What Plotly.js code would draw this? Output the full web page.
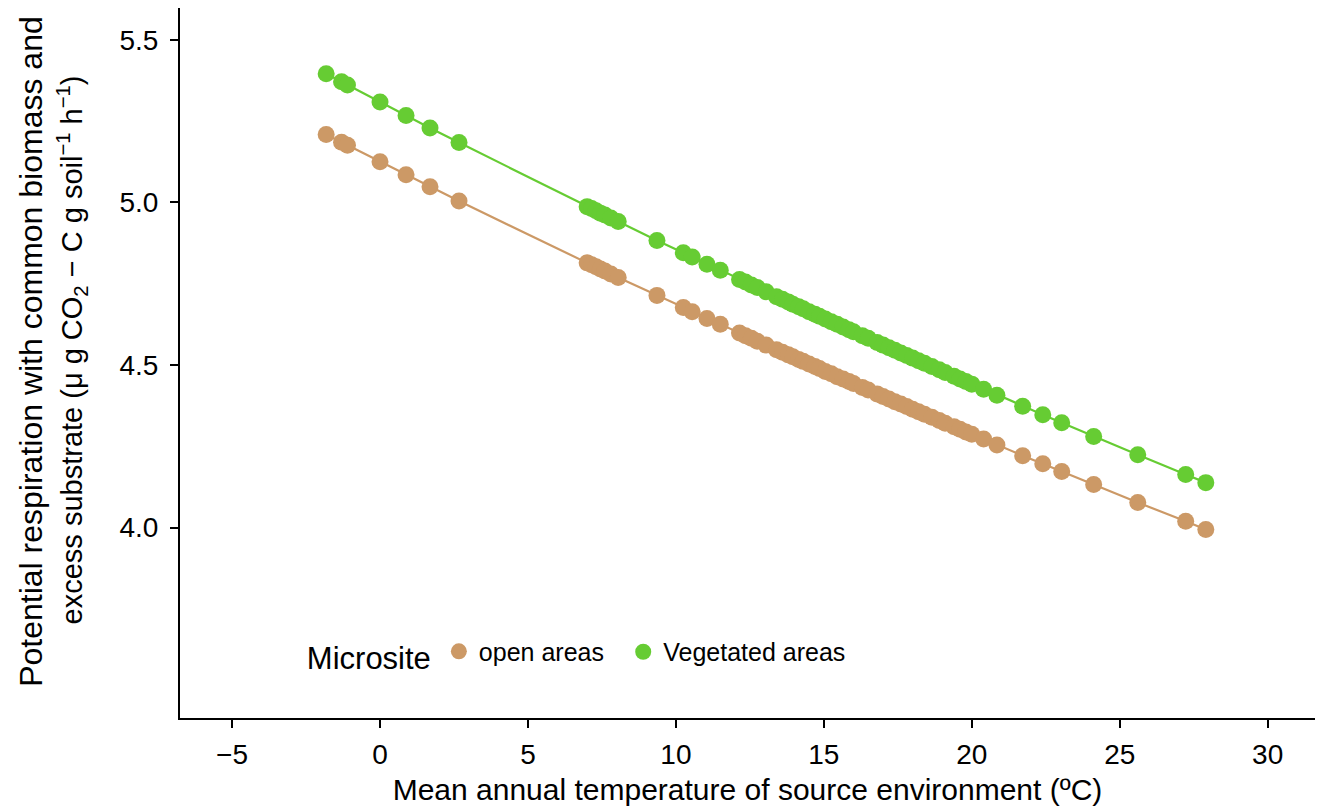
<!DOCTYPE html>
<html>
<head>
<meta charset="utf-8">
<script src="https://cdn.plot.ly/plotly-3.0.1.min.js"></script>
<style>html,body{margin:0;padding:0;background:#fff;}#chart{width:1327px;height:811px;}</style>
</head>
<body>
<div id="chart"></div>
<script>
// Mean annual temperature of source environment (ºC) for each site
const temperature = [-1.82, -1.3, -1.1, 0.0, 0.88, 1.69, 2.67,
  7.0, 7.15, 7.3, 7.45, 7.6, 7.8, 8.05,
  9.36, 10.25, 10.55, 11.05, 11.5,
  12.15, 12.35, 12.55, 12.75, 13.05,
  13.4, 13.6, 13.8, 13.95, 14.15, 14.3, 14.5, 14.7, 14.85, 15.05, 15.25, 15.45, 15.65, 15.85, 16.0,
  16.3, 16.5, 16.8, 17.0, 17.2, 17.4, 17.6, 17.8, 18.0, 18.2, 18.4, 18.65, 18.9, 19.1, 19.4, 19.6, 19.8, 20.0,
  20.4, 20.85, 21.72, 22.4, 23.04, 24.12, 25.61, 27.23, 27.91];

// Predicted potential respiration, open areas
const openAreas = [5.209, 5.185, 5.176, 5.125, 5.085, 5.048, 5.004,
  4.814, 4.808, 4.802, 4.795, 4.789, 4.780, 4.769,
  4.714, 4.677, 4.664, 4.643, 4.625,
  4.598, 4.590, 4.582, 4.573, 4.561,
  4.547, 4.539, 4.531, 4.525, 4.517, 4.511, 4.503, 4.495, 4.489, 4.480, 4.473, 4.464, 4.457, 4.449, 4.443,
  4.431, 4.423, 4.411, 4.403, 4.395, 4.387, 4.380, 4.372, 4.364, 4.356, 4.348, 4.339, 4.329, 4.321, 4.310, 4.302, 4.294, 4.287,
  4.272, 4.254, 4.221, 4.196, 4.172, 4.132, 4.077, 4.019, 3.994];

// Predicted potential respiration, vegetated areas
const vegetatedAreas = [5.396, 5.371, 5.361, 5.309, 5.267, 5.229, 5.184,
  4.987, 4.981, 4.974, 4.967, 4.961, 4.952, 4.941,
  4.883, 4.845, 4.832, 4.810, 4.791,
  4.763, 4.755, 4.746, 4.738, 4.725,
  4.710, 4.702, 4.694, 4.687, 4.679, 4.673, 4.664, 4.656, 4.650, 4.641, 4.633, 4.625, 4.617, 4.608, 4.602,
  4.590, 4.582, 4.569, 4.561, 4.553, 4.545, 4.537, 4.529, 4.521, 4.513, 4.505, 4.495, 4.485, 4.477, 4.465, 4.457, 4.449, 4.441,
  4.425, 4.407, 4.373, 4.347, 4.322, 4.280, 4.224, 4.163, 4.138];

const seriesNames = ["open areas", "Vegetated areas"];
const xTicks = [-5, 0, 5, 10, 15, 20, 25, 30];
const yTicks = [4.0, 4.5, 5.0, 5.5];
const yTickLabels = ["4.0", "4.5", "5.0", "5.5"];

const colors = ["#CC9966", "#66CC33"];
const FONT = "Liberation Sans, Arial, Helvetica, sans-serif";
const legendIds = ["legend", "legend2"];

const seriesY = [openAreas, vegetatedAreas];
const traces = [];
seriesY.forEach((ys, i) => {
  traces.push({
    x: temperature, y: ys, type: "scatter", mode: "lines",
    line: {color: colors[i], width: 2.2}, showlegend: false, hoverinfo: "skip"
  });
});
seriesY.forEach((ys, i) => {
  traces.push({
    x: temperature, y: ys, type: "scatter", mode: "markers",
    name: seriesNames[i], legend: legendIds[i],
    marker: {color: colors[i], size: 17, line: {width: 0}}
  });
});

const layout = {
  width: 1327, height: 811,
  margin: {l: 180, r: 12, t: 8, b: 93},
  paper_bgcolor: "#fff", plot_bgcolor: "#fff",
  font: {family: FONT, color: "#000", size: 25},
  xaxis: {
    range: [-6.76, 31.6], tickvals: xTicks, showgrid: false, zeroline: false,
    showline: true, linecolor: "#000", linewidth: 2,
    ticks: "outside", ticklen: 8, tickwidth: 2, tickcolor: "#000",
    tickfont: {size: 28, color: "#000"}, ticklabelstandoff: 2,
    title: {text: "Mean annual temperature of source environment (ºC)", font: {size: 30, color: "#000"}, standoff: 10}
  },
  yaxis: {
    range: [3.414, 5.598], tickvals: yTicks, ticktext: yTickLabels, showgrid: false, zeroline: false,
    showline: true, linecolor: "#000", linewidth: 2,
    ticks: "outside", ticklen: 8, tickwidth: 2, tickcolor: "#000",
    tickfont: {size: 28, color: "#000"}, ticklabelstandoff: 6
  },
  showlegend: true,
  legend: {
    orientation: "h", x: 0.11, y: 0.090, xanchor: "left", yanchor: "middle",
    bgcolor: "rgba(0,0,0,0)", font: {size: 25, color: "#000"},
    title: {text: "Microsite", side: "left", font: {size: 31, color: "#000"}},
    itemwidth: 30
  },
  legend2: {
    orientation: "h", x: 0.3905, y: 0.093, xanchor: "left", yanchor: "middle",
    bgcolor: "rgba(0,0,0,0)", font: {size: 25, color: "#000"},
    itemwidth: 30
  },
  annotations: [
    {text: "Potential respiration with common biomass and", xref: "paper", yref: "paper",
     x: -0.132, y: 0.516, xanchor: "center", yanchor: "middle", textangle: -90, showarrow: false,
     font: {size: 32, color: "#000"}},
    {text: "excess substrate (μ g CO<sub>2</sub> − C g soil<sup>−1</sup> h<sup>−1</sup>)", xref: "paper", yref: "paper",
     x: -0.095, y: 0.518, xanchor: "center", yanchor: "middle", textangle: -90, showarrow: false,
     font: {size: 29, color: "#000"}}
  ]
};

Plotly.newPlot("chart", traces, layout, {displayModeBar: false, staticPlot: true});
</script>
</body>
</html>
